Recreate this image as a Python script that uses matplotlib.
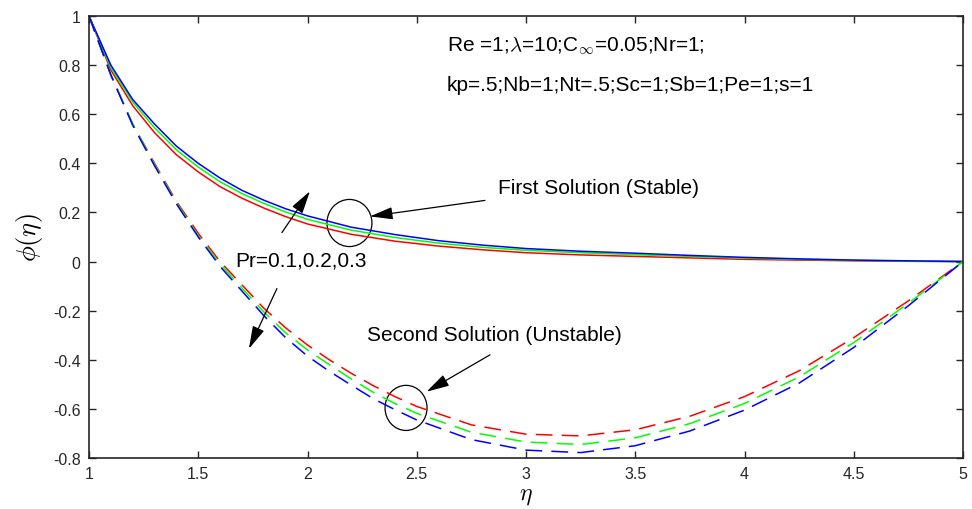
import matplotlib
matplotlib.use("Agg")
import matplotlib.pyplot as plt
from matplotlib.patches import Ellipse

plt.rcParams['font.family'] = ['Liberation Sans', 'DejaVu Sans']
plt.rcParams['mathtext.fontset'] = 'cm'

# First solution (stable) - solid lines
eta_first = [1.0, 1.1, 1.2, 1.3, 1.4, 1.5, 1.6, 1.7, 1.8, 1.9, 2.0, 2.2, 2.4, 2.6, 2.8,
             3.0, 3.25, 3.5, 3.75, 4.0, 4.25, 4.5, 4.75, 5.0]
phi_first_pr01 = [1.0, 0.78, 0.635, 0.525, 0.435, 0.365, 0.305, 0.258, 0.218, 0.183, 0.153,
                  0.111, 0.083, 0.063, 0.048, 0.036, 0.027, 0.021, 0.015, 0.009, 0.006, 0.003, 0.001, 0.0]
phi_first_pr02 = [1.0, 0.79, 0.65, 0.545, 0.455, 0.385, 0.325, 0.277, 0.237, 0.202, 0.172,
                  0.128, 0.098, 0.075, 0.058, 0.046, 0.036, 0.028, 0.021, 0.014, 0.009, 0.005, 0.002, 0.0]
phi_first_pr03 = [1.0, 0.80, 0.66, 0.56, 0.47, 0.40, 0.34, 0.29, 0.25, 0.215, 0.186,
                  0.14, 0.11, 0.085, 0.067, 0.053, 0.042, 0.034, 0.025, 0.017, 0.011, 0.006, 0.003, 0.0]

# Second solution (unstable) - dashed lines
eta_second = [1.0, 1.1, 1.2, 1.3, 1.4, 1.5, 1.6, 1.7, 1.8, 1.9, 2.0, 2.1, 2.2, 2.3, 2.4, 2.5,
              2.75, 3.0, 3.25, 3.5, 3.75, 4.0, 4.25, 4.5, 4.75, 5.0]
phi_second_pr01 = [1.0, 0.76, 0.56, 0.40, 0.245, 0.115, 0.0, -0.095, -0.19, -0.27, -0.34, -0.40,
                   -0.455, -0.505, -0.55, -0.59, -0.665, -0.703, -0.71, -0.685, -0.63, -0.55,
                   -0.445, -0.31, -0.16, 0.0]
phi_second_pr02 = [1.0, 0.76, 0.56, 0.395, 0.24, 0.105, -0.01, -0.108, -0.205, -0.29, -0.36, -0.42,
                   -0.478, -0.532, -0.578, -0.618, -0.695, -0.735, -0.745, -0.718, -0.66, -0.578,
                   -0.47, -0.33, -0.17, 0.0]
phi_second_pr03 = [1.0, 0.76, 0.555, 0.39, 0.235, 0.10, -0.02, -0.12, -0.22, -0.31, -0.385, -0.447,
                   -0.503, -0.558, -0.603, -0.645, -0.725, -0.768, -0.778, -0.75, -0.69, -0.605,
                   -0.495, -0.35, -0.18, 0.0]

colors = ['red', '#00ff00', 'blue']

xticks = [1, 1.5, 2, 2.5, 3, 3.5, 4, 4.5, 5]
xticklabels = ['1', '1.5', '2', '2.5', '3', '3.5', '4', '4.5', '5']
yticks = [-0.8, -0.6, -0.4, -0.2, 0, 0.2, 0.4, 0.6, 0.8, 1]
yticklabels = ['-0.8', '-0.6', '-0.4', '-0.2', '0', '0.2', '0.4', '0.6', '0.8', '1']

fig = plt.figure(figsize=(9.72, 5.10), dpi=100)
ax = fig.add_axes([89/972, 1-459/510, (963-89)/972, (459-17)/510])

for ys, c in zip([phi_first_pr01, phi_first_pr02, phi_first_pr03], colors):
    ax.plot(eta_first, ys, color=c, lw=1.1, solid_joinstyle='round')
for ys, c in zip([phi_second_pr01, phi_second_pr02, phi_second_pr03], colors):
    ax.plot(eta_second, ys, color=c, lw=1.1, dashes=(11, 6))

ax.set_xlim(1, 5)
ax.set_ylim(-0.8, 1)
ax.set_xticks(xticks)
ax.set_xticklabels(xticklabels)
ax.set_yticks(yticks)
ax.set_yticklabels(yticklabels)
ax.tick_params(direction='in', length=5, width=1, top=True, right=True,
               labelsize=11.5, colors='#262626', pad=6)
for s in ax.spines.values():
    s.set_linewidth(1.2)
    s.set_color('#262626')

ax.set_xlabel(r'$\eta$', fontsize=17, labelpad=2)
ax.set_ylabel(r'$\phi(\eta)$', fontsize=19, labelpad=6)

# Annotations
fs = 15
ax.text(2.638, 0.882, r'Re =1;$\lambda$=10;C$_{\infty}$=0.05;Nr=1;', fontsize=fs,
        ha='left', va='center')
ax.text(2.638, 0.722, 'kp=.5;Nb=1;Nt=.5;Sc=1;Sb=1;Pe=1;s=1', fontsize=fs,
        ha='left', va='center')
ax.text(2.872, 0.302, 'First Solution (Stable)', fontsize=fs, ha='left', va='center')
ax.text(2.272, -0.298, 'Second Solution (Unstable)', fontsize=fs, ha='left', va='center')
ax.text(1.668, 0.008, 'Pr=0.1,0.2,0.3', fontsize=fs, ha='left', va='center')

ax.add_patch(Ellipse((2.192, 0.157), 45/218.5, 47/245, fill=False, lw=0.9, color='black'))
ax.add_patch(Ellipse((2.451, -0.596), 42/218.5, 45/245, fill=False, lw=0.9, color='black'))

ap = dict(arrowstyle='-|>,head_length=1.4,head_width=0.38', color='black', lw=0.9,
          shrinkA=0, shrinkB=0)
ax.annotate('', xy=(2.286, 0.184), xytext=(2.812, 0.249), arrowprops=ap)
ax.annotate('', xy=(2.545, -0.530), xytext=(2.835, -0.380), arrowprops=ap)
ax.annotate('', xy=(2.011, 0.286), xytext=(1.883, 0.118), arrowprops=ap)
ax.annotate('', xy=(1.732, -0.355), xytext=(1.860, -0.110), arrowprops=ap)

fig.savefig('out.png', dpi=100)
